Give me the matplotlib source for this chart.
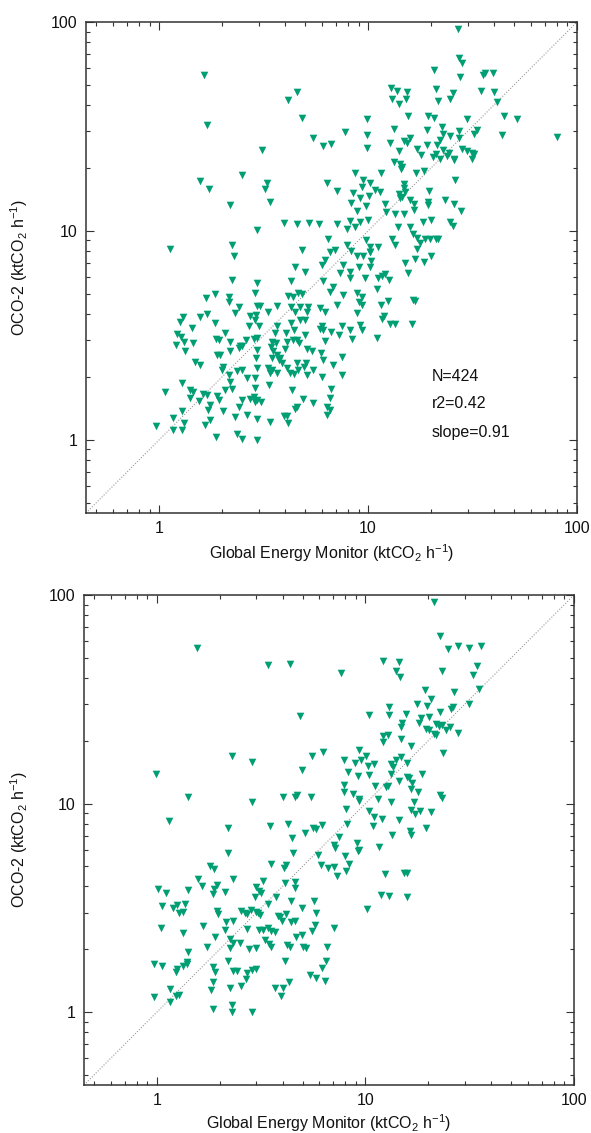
import numpy as np
import matplotlib
matplotlib.use('Agg')
import matplotlib.pyplot as plt
from matplotlib import ticker

plt.rcParams['font.family'] = ['Liberation Sans', 'DejaVu Sans']
plt.rcParams['mathtext.fontset'] = 'custom'
plt.rcParams['mathtext.rm'] = 'Liberation Sans'
plt.rcParams['mathtext.default'] = 'regular'

# top panel: Global Energy Monitor (x) vs OCO-2 (y), ktCO2/h
gem_top = [
    2.5, 1.57, 1.73, 3.28, 3.22, 6.34, 7.1, 8.67, 9.43, 8.5,
    9.34, 10.2, 3.4, 2.19, 8.28, 9.17, 10.1, 8.83, 9.77, 3.97,
    4.56, 5.22, 5.84, 7.13, 8.2, 9.1, 10.0, 2.93, 7.9, 8.67,
    1.13, 2.23, 2.27, 6.4, 4.81, 6.58, 6.95, 6.24, 8.28, 8.83,
    9.5, 10.2, 9.8, 10.2, 7.9, 4.47, 4.99, 6.0, 7.35, 8.2,
    9.0, 9.67, 2.23, 2.93, 4.3, 6.07, 8.2, 7.6, 10.2, 6.83,
    1.85, 1.68, 2.17, 2.88, 4.64, 4.85, 4.16, 6.58, 7.6, 8.83,
    9.34, 9.0, 2.17, 7.13, 4.38, 2.4, 2.93, 3.05, 3.66, 3.33,
    4.26, 4.73, 5.18, 5.9, 6.2, 2.31, 2.72, 2.9, 4.47, 5.09,
    8.83, 9.34, 1.30, 1.26, 1.57, 1.69, 1.85, 2.88, 2.68, 2.99,
    3.66, 4.26, 4.73, 4.99, 6.0, 7.5, 9.17, 9.34, 1.43, 1.22,
    1.27, 1.31, 1.21, 1.46, 1.87, 1.94, 2.19, 2.07, 2.44, 2.6,
    2.85, 2.93, 3.46, 3.63, 4.04, 4.35, 4.56, 4.08, 4.69, 4.99,
    5.9, 6.1, 6.63, 7.27, 8.37, 6.2, 8.2, 3.59, 4.42, 3.42,
    4.0, 1.33, 1.89, 1.96, 2.19, 2.49, 2.4, 2.93, 3.52, 3.66,
    3.8, 5.09, 5.38, 5.94, 6.07, 7.5, 1.48, 1.57, 2.91, 3.46,
    4.56, 5.03, 4.91, 6.77, 3.73, 3.86, 2.03, 1.99, 2.35, 2.49,
    2.63, 2.93, 2.88, 3.33, 3.4, 3.66, 3.46, 4.24, 4.44, 5.09,
    5.47, 6.0, 7.5, 2.17, 2.19, 1.28, 3.36, 4.08, 4.6, 1.07,
    1.41, 1.45, 1.41, 1.63, 1.69, 1.89, 1.94, 2.07, 2.23, 2.49,
    2.88, 2.72, 2.83, 2.93, 3.06, 2.88, 4.31, 4.87, 5.47, 6.63,
    6.58, 1.56, 1.75, 1.28, 1.72, 2.02, 2.4, 2.63, 2.93, 3.4,
    3.97, 4.08, 4.16, 4.47, 4.56, 6.34, 6.58, 6.34, 1.16, 1.31,
    0.97, 1.17, 1.28, 1.75, 1.66, 2.31, 1.87, 2.37, 2.49, 2.93,
    1.64, 1.70, 3.11, 4.14, 4.57, 4.85, 5.46, 6.09, 6.65, 7.76,
    9.9, 9.9, 9.9, 11.0,
    27.0, 27.3, 28.3, 20.6, 27.4, 35.6, 36.4, 39.7, 12.9, 13.7,
    15.3, 13.0, 15.2, 14.0, 21.1, 21.5, 25.6, 24.8, 34.7, 40.0,
    41.4, 15.5, 19.4, 20.6, 29.6, 44.8, 51.9, 80.6, 43.6, 33.3,
    32.1, 13.3, 12.7, 14.9, 15.9, 15.4, 14.0, 19.1, 22.5, 22.8,
    24.8, 27.3, 27.1, 17.1, 19.1, 21.3, 22.1, 18.0, 20.5, 21.1,
    22.1, 22.9, 23.8, 24.4, 25.9, 28.1, 29.6, 31.3, 32.1, 31.3,
    25.9, 13.3, 14.2, 14.6, 14.3, 17.0, 18.6, 26.1, 11.5, 14.9,
    14.8, 15.1, 14.0, 14.2, 14.5, 19.6, 19.4, 19.4, 15.9, 16.5,
    16.6, 23.3, 25.9, 28.0, 12.0, 10.8, 11.4, 12.2, 13.4, 14.9,
    13.9, 15.9, 18.3, 20.1, 24.6, 25.4, 16.4, 17.2, 18.8, 19.8,
    21.1, 21.6, 13.0, 13.4, 17.7, 17.2, 18.5, 20.1, 16.8, 15.1,
    15.6, 11.2, 10.2, 10.3, 11.1, 11.6, 12.0, 12.6, 11.0, 16.4,
    16.8, 12.5, 11.5, 11.9, 11.6, 12.7, 13.4, 16.2,
]
oco_top = [
    18.6, 17.3, 15.9, 16.9, 15.9, 16.9, 15.6, 19.0, 17.6, 15.2,
    16.2, 16.9, 13.8, 13.3, 13.6, 14.3, 14.7, 12.5, 13.1, 10.9,
    10.8, 10.9, 10.8, 10.8, 11.1, 11.0, 11.3, 10.1, 10.2, 10.5,
    8.2, 8.55, 7.6, 9.16, 8.1, 7.95, 8.1, 7.25, 8.05, 7.55,
    7.6, 7.95, 9.05, 8.4, 8.55, 6.75, 6.35, 6.9, 6.27, 6.35,
    6.75, 5.95, 5.83, 5.65, 5.76, 5.73, 5.95, 6.9, 6.75, 5.42,
    4.99, 4.8, 4.85, 5.04, 5.07, 4.99, 4.88, 5.13, 4.93, 5.04,
    4.85, 4.59, 4.55, 4.42, 4.85, 4.34, 4.37, 4.37, 4.37, 4.11,
    4.34, 4.31, 4.34, 4.26, 4.11, 4.03, 3.92, 3.95, 4.11, 4.11,
    4.03, 4.42, 3.89, 3.68, 3.86, 4.0, 3.61, 3.75, 3.52, 3.49,
    3.52, 3.61, 3.75, 3.75, 3.49, 3.49, 3.55, 3.34, 3.45, 3.22,
    3.12, 2.95, 2.85, 2.9, 3.04, 3.0, 2.95, 3.24, 2.82, 3.0,
    3.03, 3.06, 2.93, 2.9, 3.24, 3.0, 3.0, 2.95, 2.9, 3.18,
    3.39, 3.37, 3.28, 3.16, 3.03, 2.98, 3.37, 3.24, 3.37, 2.77,
    2.72, 2.65, 2.55, 2.55, 2.65, 2.82, 2.74, 2.69, 2.65, 2.55,
    2.46, 2.72, 2.65, 2.6, 2.41, 2.5, 2.36, 2.27, 2.46, 2.46,
    2.34, 2.33, 2.24, 2.27, 2.42, 2.33, 2.24, 2.16, 2.14, 2.16,
    1.97, 2.2, 1.98, 2.2, 2.08, 2.1, 2.16, 2.08, 2.07, 2.04,
    2.16, 2.0, 2.05, 2.04, 1.9, 1.88, 1.83, 2.2, 2.16, 1.69,
    1.73, 1.7, 1.58, 1.66, 1.64, 1.62, 1.55, 1.73, 1.75, 1.55,
    1.77, 1.57, 1.6, 1.55, 1.52, 1.51, 1.73, 1.57, 1.5, 1.75,
    1.59, 1.54, 1.47, 1.37, 1.39, 1.37, 1.44, 1.32, 1.26, 1.22,
    1.3, 1.3, 1.2, 1.4, 1.44, 1.44, 1.39, 1.32, 1.27, 1.2,
    1.16, 1.12, 1.12, 1.25, 1.18, 1.29, 1.03, 1.07, 1.01, 1.0,
    55.7, 32.2, 24.4, 42.4, 46.2, 34.7, 27.9, 25.5, 26.1, 29.8,
    34.4, 28.8, 24.9, 3.08,
    93.0, 67.3, 63.7, 58.7, 54.6, 55.9, 57.0, 57.0, 48.5, 46.8,
    46.0, 43.0, 43.0, 40.4, 47.6, 41.8, 45.5, 42.8, 46.8, 46.0,
    41.5, 35.3, 35.3, 34.6, 34.3, 35.3, 34.3, 28.3, 28.7, 30.3,
    29.0, 30.9, 26.4, 26.8, 27.8, 26.4, 24.2, 30.3, 31.6, 29.2,
    28.6, 30.1, 27.8, 24.6, 25.9, 25.9, 27.3, 23.1, 22.6, 23.3,
    22.0, 24.3, 22.8, 23.5, 22.0, 24.8, 24.0, 23.7, 23.3, 22.2,
    21.8, 21.4, 20.8, 20.3, 19.7, 18.9, 19.4, 17.5, 19.0, 16.8,
    16.0, 15.3, 15.1, 14.4, 14.6, 15.6, 13.7, 13.3, 14.0, 13.5,
    12.6, 14.0, 13.5, 12.4, 13.5, 15.7, 15.3, 12.3, 12.0, 12.0,
    10.5, 10.5, 11.0, 11.3, 11.0, 10.6, 9.68, 9.22, 9.12, 9.12,
    9.12, 9.2, 9.2, 8.55, 8.8, 8.2, 7.1, 7.6, 7.3, 7.05,
    6.3, 8.4, 7.9, 7.2, 5.94, 6.1, 6.2, 5.8, 5.3, 4.67,
    4.6, 4.6, 4.4, 3.9, 3.8, 3.6, 3.6, 3.6,
]

# bottom panel
gem_bot = [
    2.28, 2.86, 0.985, 5.56, 6.25, 4.98, 1.41, 2.84, 4.0, 4.6,
    4.7, 5.5, 1.14, 2.18, 3.47, 4.25, 5.1, 5.6, 5.8, 6.2,
    4.45, 2.19, 4.5, 5.95, 7.1, 7.15, 6.13, 6.6, 7.1, 7.3,
    3.52, 4.05, 4.17, 1.79, 1.87, 1.57, 1.64, 2.32, 3.0, 3.09,
    3.17, 3.23, 1.87, 1.94, 1.85, 2.11, 1.41, 1.01, 1.10, 2.94,
    4.1, 4.6, 4.6, 3.74, 4.4, 5.66, 4.96, 5.8, 1.06, 1.19,
    1.25, 1.36, 1.28, 1.34, 1.93, 1.97, 2.54, 2.64, 2.69, 2.82,
    2.97, 3.06, 3.13, 3.41, 3.88, 3.99, 4.14, 3.81, 4.4, 4.6,
    5.7, 5.55, 7.1, 1.05, 1.34, 1.67, 2.14, 2.32, 2.11, 2.69,
    3.1, 3.23, 3.41, 3.54, 3.7, 3.28, 3.45, 3.52, 1.9, 2.23,
    2.32, 2.51, 2.25, 4.22, 4.35, 4.66, 4.98, 5.0, 5.2, 6.55,
    2.76, 3.0, 1.73, 1.41, 0.97, 1.06, 1.23, 1.25, 1.33, 1.39,
    1.40, 1.85, 1.9, 2.19, 2.32, 2.41, 2.7, 2.84, 3.0, 2.67,
    2.52, 4.1, 5.4, 5.8, 6.2, 6.5, 6.4, 4.3, 3.67, 4.0,
    3.92, 1.86, 1.81, 2.25, 1.15, 0.97, 1.15, 1.23, 1.27, 1.86,
    2.3, 2.3, 2.84, 10.2, 11.9, 13.0, 15.9, 1.55, 3.40, 4.33,
    4.83,
    21.3, 22.8, 25.0, 27.9, 31.4, 36.0, 12.2, 14.4, 7.65, 14.0,
    14.6, 23.2, 34.4, 32.6, 35.0, 31.2, 19.2, 20.7, 17.6, 19.8,
    26.6, 12.9, 12.9, 10.45, 15.6, 18.4, 20.2, 18.0, 22.8, 25.7,
    26.4, 15.0, 14.8, 19.5, 20.2, 21.9, 22.6, 23.4, 25.4, 24.3,
    21.3, 21.7, 27.9, 12.1, 12.8, 12.2, 14.8, 16.5, 23.6, 9.35,
    10.1, 9.5, 8.95, 7.85, 10.3, 11.0, 8.23, 9.2, 10.45, 13.2,
    13.5, 14.0, 14.8, 15.9, 13.2, 14.5, 15.8, 16.2, 16.7, 16.5,
    18.7, 7.9, 7.85, 8.75, 9.3, 9.35, 11.1, 11.5, 12.6, 12.8,
    13.3, 17.9, 17.0, 22.8, 23.4, 8.1, 10.4, 11.0, 12.0, 14.5,
    16.5, 17.3, 18.3, 20.6, 8.15, 10.9, 13.4, 16.4, 16.5, 19.5,
    7.5, 9.1, 9.3, 9.2, 11.6, 8.0, 8.3, 8.1, 12.4, 15.3,
    15.9,
]
oco_bot = [
    16.9, 15.9, 13.8, 16.9, 17.6, 14.5, 10.8, 10.15, 10.7, 10.8,
    11.0, 10.7, 8.2, 7.6, 7.8, 8.0, 7.2, 7.6, 7.55, 7.9,
    6.8, 5.76, 5.76, 5.67, 6.3, 6.1, 5.05, 4.9, 4.97, 4.5,
    5.15, 4.9, 5.05, 5.0, 4.87, 4.33, 4.0, 4.36, 3.97, 3.8,
    3.74, 4.25, 3.9, 4.05, 3.67, 3.76, 3.84, 3.88, 3.74, 3.56,
    4.17, 4.2, 3.95, 3.56, 3.41, 3.41, 3.17, 3.0, 3.23, 3.15,
    3.26, 3.28, 2.98, 3.03, 3.06, 2.94, 3.06, 3.0, 2.94, 3.08,
    3.03, 3.0, 2.93, 3.28, 2.84, 2.74, 2.94, 2.89, 2.69, 2.74,
    2.62, 2.45, 2.54, 2.54, 2.39, 2.59, 2.69, 2.74, 2.47, 2.5,
    2.47, 2.47, 2.54, 2.45, 2.41, 2.22, 2.11, 2.06, 2.28, 2.23,
    2.15, 2.15, 2.02, 2.09, 2.05, 2.28, 2.34, 2.04, 2.02, 2.06,
    2.0, 2.02, 2.04, 1.93, 1.70, 1.67, 1.56, 1.61, 1.67, 1.70,
    1.73, 1.65, 1.56, 1.76, 1.58, 1.58, 1.54, 1.59, 1.61, 1.44,
    1.33, 1.75, 1.50, 1.45, 1.62, 1.76, 1.41, 1.40, 1.30, 1.31,
    1.2, 1.39, 1.27, 1.30, 1.29, 1.18, 1.12, 1.2, 1.21, 1.03,
    1.08, 1.0, 1.0, 3.11, 3.63, 3.59, 3.55, 55.7, 46.2, 46.8,
    26.4,
    93.0, 63.6, 55.0, 56.7, 55.6, 57.0, 48.3, 47.5, 42.1, 43.3,
    40.6, 43.1, 45.9, 41.4, 35.4, 30.0, 35.0, 31.8, 30.0, 29.2,
    34.1, 28.9, 26.6, 26.5, 26.9, 25.7, 25.9, 24.3, 27.4, 28.3,
    29.0, 24.3, 23.4, 22.7, 22.6, 24.1, 23.6, 23.9, 23.4, 22.4,
    21.6, 21.3, 21.7, 21.0, 21.3, 19.8, 20.4, 18.9, 17.5, 18.0,
    16.9, 16.2, 15.6, 16.1, 15.2, 15.4, 14.2, 13.5, 13.7, 15.4,
    14.9, 16.1, 16.8, 15.6, 13.8, 12.8, 13.4, 13.2, 12.5, 11.7,
    13.9, 12.3, 11.4, 11.1, 10.5, 10.3, 12.2, 10.5, 12.0, 12.1,
    10.2, 11.4, 10.2, 11.0, 10.6, 9.4, 9.2, 8.6, 8.4, 8.3,
    9.35, 8.95, 9.2, 9.1, 8.0, 7.8, 7.1, 7.4, 7.1, 7.6,
    6.9, 6.5, 6.0, 5.9, 6.2, 5.6, 5.15, 4.74, 4.57, 4.66,
    4.66,
]

stats_top = ['N=424', 'r2=0.42', 'slope=0.91']
stats_y = [2.0, 1.49, 1.09]
lims = [10 ** -0.35, 100]
green = '#009e73'
fs = 11.5

fig = plt.figure(figsize=(5.91, 11.33), dpi=100)
ax1 = fig.add_axes([86 / 591, 1 - 513 / 1133, 491 / 591, 491 / 1133])
ax2 = fig.add_axes([84 / 591, 1 - 1085 / 1133, 490 / 591, 490 / 1133])

for ax, xs, ys, xl_y, yl_x in [(ax1, gem_top, oco_top, -0.060, -0.114),
                               (ax2, gem_bot, oco_bot, -0.056, -0.110)]:
    ax.plot(lims, lims, color='#999999', lw=0.8, ls=(0, (1, 1.5)), zorder=1)
    ax.scatter(xs, ys, marker='v', s=30, color=green, linewidths=0, zorder=2)
    ax.set_xscale('log')
    ax.set_yscale('log')
    ax.set_xlim(lims)
    ax.set_ylim(lims)
    for axis in [ax.xaxis, ax.yaxis]:
        axis.set_major_locator(ticker.FixedLocator([1, 10, 100]))
        axis.set_major_formatter(ticker.FixedFormatter(['1', '10', '100']))
        axis.set_minor_locator(ticker.LogLocator(base=10, subs=np.arange(2, 10)))
        axis.set_minor_formatter(ticker.NullFormatter())
    ax.tick_params(which='both', direction='in', top=True, right=True,
                   color='#333333', width=0.8, labelsize=fs, labelcolor='#111111')
    ax.tick_params(which='major', length=5.5, pad=6)
    ax.tick_params(which='minor', length=3)
    for sp in ax.spines.values():
        sp.set_color('#333333')
        sp.set_linewidth(1.1)
    ax.set_xlabel('Global Energy Monitor (ktCO$_2$ h$^{-1}$)', fontsize=fs, color='#111111')
    ax.set_ylabel('OCO-2 (ktCO$_2$ h$^{-1}$)', fontsize=fs, color='#111111')
    ax.xaxis.set_label_coords(0.5, xl_y)
    ax.yaxis.set_label_coords(yl_x, 0.5)

for label, yv in zip(stats_top, stats_y):
    ax1.text(20.2, yv, label, fontsize=fs, color='#111111', ha='left', va='center')

fig.savefig('out.png', dpi=100)
